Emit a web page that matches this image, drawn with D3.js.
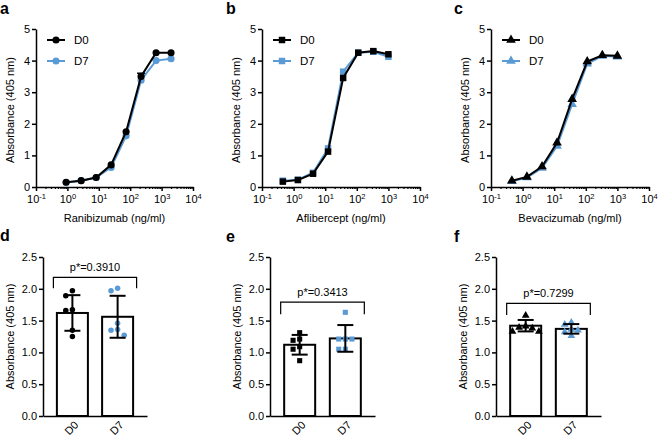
<!DOCTYPE html>
<html>
<head>
<meta charset="utf-8">
<script src="https://cdnjs.cloudflare.com/ajax/libs/d3/7.8.5/d3.min.js"></script>
<style>
body { margin: 0; background: #fff; }
text { font-family: "Liberation Sans", Arial, sans-serif; fill: #000; }
</style>
</head>
<body>
<div id="chart"></div>
<script>
// concentrations (ng/ml), 3-fold dilutions
var concRani = [0.91, 2.74, 8.23, 24.7, 74.1, 222, 667, 2000];
var concAfli = [0.457, 1.37, 4.12, 12.3, 37.0, 111, 333, 1000];
var concBeva = [0.457, 1.37, 4.12, 12.3, 37.0, 111, 333, 1000];

// absorbance curves
var raniD0 = [0.15, 0.2, 0.3, 0.7, 1.75, 3.5, 4.25, 4.25];
var raniD7 = [0.14, 0.2, 0.3, 0.62, 1.62, 3.38, 4.0, 4.06];
var raniD0Err = [0, 0, 0, 0, 0, 0.1, 0, 0];
var afliD0 = [0.17, 0.22, 0.42, 1.12, 3.45, 4.25, 4.3, 4.2];
var afliD7 = [0.2, 0.23, 0.45, 1.22, 3.65, 4.25, 4.28, 4.12];
var bevaD0 = [0.2, 0.32, 0.65, 1.4, 2.78, 3.97, 4.17, 4.15];
var bevaD7 = [0.18, 0.3, 0.6, 1.3, 2.62, 3.9, 4.15, 4.12];

// bar panels
var groups = ["D0", "D7"];
var raniPtsD0 = [1.97, 1.89, 1.66, 1.67, 1.35, 1.25];
var raniPtsD7 = [1.97, 2.01, 1.36, 1.46, 1.35, 1.27];
var raniMean = [1.62, 1.56];
var raniSD = [0.28, 0.33];
var afliPtsD0 = [1.31, 1.21, 1.19, 1.09, 0.87, 1.05];
var afliPtsD7 = [1.63, 1.21, 1.21, 1.21, 1.05, 1.05];
var afliMean = [1.12, 1.22];
var afliSD = [0.155, 0.21];
var bevaPtsD0 = [1.58, 1.38, 1.41, 1.33, 1.33, 1.39];
var bevaPtsD7 = [1.47, 1.44, 1.36, 1.35, 1.32, 1.26];
var bevaMean = [1.42, 1.37];
var bevaSD = [0.09, 0.075];
var pLabels = ["p*=0.3910", "p*=0.3413", "p*=0.7299"];

var black = "#000";
var blue = "#5b9bd5";

var svg = d3.select("#chart")
    .append("svg")
    .attr("width", 658)
    .attr("height", 438);

function panelLabel(txt, x, y) {
    svg.append("text")
        .attr("x", x).attr("y", y)
        .attr("font-size", "16px")
        .attr("font-weight", "bold")
        .text(txt);
}

// top row: dose-response curves
function drawCurve(p) {
    var yBot = 187, yTop = 29;
    var x = d3.scaleLog().domain([0.1, 10000]).range([p.x0, p.x1]);
    var y = d3.scaleLinear().domain([0, 5]).range([yBot, yTop]);

    var minors = [];
    for (var k = -1; k <= 3; k++) {
        for (var m = 2; m <= 9; m++) minors.push(m * Math.pow(10, k));
    }

    svg.append("g")
        .attr("transform", `translate(0, ${yBot})`)
        .call(d3.axisBottom(x).tickValues(minors).tickSize(2).tickSizeOuter(0).tickFormat(""))
        .call(g => g.select(".domain").remove())
        .call(g => g.selectAll("line").attr("stroke-width", 1.2));

    var xAxis = svg.append("g")
        .attr("transform", `translate(0, ${yBot})`)
        .call(d3.axisBottom(x).tickValues([0.1, 1, 10, 100, 1000, 10000]).tickSize(4).tickSizeOuter(0).tickPadding(4));
    xAxis.selectAll(".tick text").each(function(d) {
        var t = d3.select(this).text(null).attr("font-size", "11px");
        t.append("tspan").text("10");
        t.append("tspan").attr("dy", "-0.5em").attr("font-size", "7.5px").text(Math.round(Math.log10(d)));
    });

    var yAxis = svg.append("g")
        .attr("transform", `translate(${p.x0}, 0)`)
        .call(d3.axisLeft(y).tickValues([0, 1, 2, 3, 4, 5]).tickFormat(d3.format("d")).tickSize(4).tickSizeOuter(0).tickPadding(2));
    yAxis.selectAll("text").attr("font-size", "11px");

    [xAxis, yAxis].forEach(function(a) {
        a.select(".domain").attr("stroke-width", 1.5);
        a.selectAll(".tick line").attr("stroke-width", 1.5);
    });

    var line = d3.line().x(d => x(d[0])).y(d => y(d[1]));
    var sym = d3.symbol().type(p.shape).size(p.size);

    [[p.d7, blue], [p.d0, black]].forEach(function(s) {
        var pts = p.conc.map((c, i) => [c, s[0][i]]);
        svg.append("path")
            .attr("d", line(pts))
            .attr("fill", "none")
            .attr("stroke", s[1])
            .attr("stroke-width", 2);
        svg.selectAll(null)
            .data(pts)
            .enter()
            .append("path")
            .attr("transform", d => `translate(${x(d[0])}, ${y(d[1])})`)
            .attr("d", sym)
            .attr("fill", s[1]);
    });

    if (p.err) {
        p.conc.forEach(function(c, i) {
            if (!p.err[i]) return;
            var yy = y(p.d0[i] + p.err[i]);
            svg.append("line").attr("x1", x(c)).attr("x2", x(c))
                .attr("y1", y(p.d0[i])).attr("y2", yy)
                .attr("stroke", black).attr("stroke-width", 1.5);
            svg.append("line").attr("x1", x(c) - 4).attr("x2", x(c) + 4)
                .attr("y1", yy).attr("y2", yy)
                .attr("stroke", black).attr("stroke-width", 1.5);
        });
    }

    // legend
    [["D0", black, 40], ["D7", blue, 61]].forEach(function(l) {
        var lx = p.x0 + 11;
        svg.append("line")
            .attr("x1", lx).attr("x2", lx + 18)
            .attr("y1", l[2]).attr("y2", l[2])
            .attr("stroke", l[1]).attr("stroke-width", 2);
        svg.append("path")
            .attr("transform", `translate(${lx + 9}, ${l[2]})`)
            .attr("d", sym)
            .attr("fill", l[1]);
        svg.append("text")
            .attr("x", p.x0 + 38).attr("y", l[2] + 4)
            .attr("font-size", "11.5px")
            .text(l[0]);
    });

    svg.append("text")
        .attr("transform", `translate(${p.x0 - 22}, ${(yBot + yTop) / 2 + 2}) rotate(-90)`)
        .attr("text-anchor", "middle")
        .attr("font-size", "11px")
        .text("Absorbance (405 nm)");

    svg.append("text")
        .attr("x", (p.x0 + p.x1) / 2).attr("y", 222)
        .attr("text-anchor", "middle")
        .attr("font-size", "11px")
        .text(p.title);
}

// simple beeswarm offsets so dots do not overlap
function swarm(vals, y, r) {
    var order = vals.map((v, i) => i).sort((a, b) => vals[b] - vals[a]);
    var placed = [];
    var out = vals.map(() => 0);
    order.forEach(function(i) {
        var py = y(vals[i]);
        var cands = [0, -1, 1, -2, 2, -3, 3];
        for (var c = 0; c < cands.length; c++) {
            var ox = cands[c] * r * 2.2;
            var ok = placed.every(q => Math.hypot(q[0] - ox, q[1] - py) >= r * 2.1);
            if (ok) { out[i] = ox; placed.push([ox, py]); break; }
        }
    });
    return out;
}

// bottom row: bar + scatter
function drawBars(p) {
    var yBot = 416, yTop = 257;
    var x = d3.scalePoint().domain(groups).range([p.x0, p.x1]).padding(0.65);
    var y = d3.scaleLinear().domain([0, 2.5]).range([yBot, yTop]);
    var bw = 31;

    var xAxis = svg.append("g")
        .attr("transform", `translate(0, ${yBot})`)
        .call(d3.axisBottom(x).tickSize(0).tickSizeOuter(0).tickFormat(""));

    // rotated category labels
    svg.selectAll(null)
        .data(groups)
        .enter()
        .append("text")
        .attr("transform", d => `translate(${x(d) + 4}, ${yBot + 7}) rotate(-45)`)
        .attr("text-anchor", "end")
        .attr("dy", "0.35em")
        .attr("font-size", "11px")
        .text(d => d);

    var yAxis = svg.append("g")
        .attr("transform", `translate(${p.x0}, 0)`)
        .call(d3.axisLeft(y).tickValues([0, 0.5, 1, 1.5, 2, 2.5]).tickFormat(d3.format(".1f")).tickSize(4).tickSizeOuter(0).tickPadding(2));
    yAxis.selectAll("text").attr("font-size", "11px");

    [xAxis, yAxis].forEach(function(a) {
        a.select(".domain").attr("stroke-width", 1.5);
        a.selectAll(".tick line").attr("stroke-width", 1.5);
    });

    svg.selectAll(null)
        .data(groups)
        .enter()
        .append("rect")
        .attr("x", d => x(d) - bw / 2)
        .attr("y", (d, i) => y(p.mean[i]))
        .attr("width", bw)
        .attr("height", (d, i) => yBot - y(p.mean[i]))
        .attr("fill", "#fff")
        .attr("stroke", black)
        .attr("stroke-width", 2);

    var sym = d3.symbol().type(p.shape).size(p.size);
    [p.pts0, p.pts7].forEach(function(vals, gi) {
        var cx = x(groups[gi]);
        var offs = swarm(vals, y, 3);
        svg.selectAll(null)
            .data(vals)
            .enter()
            .append("path")
            .attr("transform", (d, i) => `translate(${cx + offs[i]}, ${y(d)})`)
            .attr("d", sym)
            .attr("fill", gi === 0 ? black : blue);
    });

    // mean +/- SD
    groups.forEach(function(g, i) {
        var cx = x(g);
        var lo = y(p.mean[i] - p.sd[i]), hi = y(p.mean[i] + p.sd[i]);
        svg.append("line").attr("x1", cx).attr("x2", cx).attr("y1", lo).attr("y2", hi)
            .attr("stroke", black).attr("stroke-width", 2);
        [lo, hi].forEach(function(yy) {
            svg.append("line").attr("x1", cx - 8).attr("x2", cx + 8).attr("y1", yy).attr("y2", yy)
                .attr("stroke", black).attr("stroke-width", 2);
        });
    });

    // significance bracket
    var bx0 = x("D0") - 19, bx1 = x("D7") + 19;
    var by = y(p.bracket[0]), bl = y(p.bracket[1]);
    svg.append("path")
        .attr("d", `M${bx0},${bl}V${by}H${bx1}V${bl}`)
        .attr("fill", "none")
        .attr("stroke", black)
        .attr("stroke-width", 1.2);
    svg.append("text")
        .attr("x", (bx0 + bx1) / 2).attr("y", by - 6)
        .attr("text-anchor", "middle")
        .attr("font-size", "11px")
        .text(p.pLabel);

    svg.append("text")
        .attr("transform", `translate(${p.x0 - 29}, ${(yBot + yTop) / 2}) rotate(-90)`)
        .attr("text-anchor", "middle")
        .attr("font-size", "11px")
        .text("Absorbance (405 nm)");
}

drawCurve({x0: 36, x1: 193, conc: concRani, d0: raniD0, d7: raniD7, err: raniD0Err,
    shape: d3.symbolCircle, size: 40, title: "Ranibizumab (ng/ml)"});
drawCurve({x0: 262, x1: 420, conc: concAfli, d0: afliD0, d7: afliD7,
    shape: d3.symbolSquare, size: 42, title: "Aflibercept (ng/ml)"});
drawCurve({x0: 491, x1: 649, conc: concBeva, d0: bevaD0, d7: bevaD7,
    shape: d3.symbolTriangle, size: 40, title: "Bevacizumab (ng/ml)"});

drawBars({x0: 43, x1: 147, pts0: raniPtsD0, pts7: raniPtsD7, mean: raniMean, sd: raniSD,
    shape: d3.symbolCircle, size: 24, bracket: [2.18, 2.01], pLabel: pLabels[0]});
drawBars({x0: 270, x1: 375, pts0: afliPtsD0, pts7: afliPtsD7, mean: afliMean, sd: afliSD,
    shape: d3.symbolSquare, size: 26, bracket: [1.79, 1.60], pLabel: pLabels[1]});
drawBars({x0: 496, x1: 601, pts0: bevaPtsD0, pts7: bevaPtsD7, mean: bevaMean, sd: bevaSD,
    shape: d3.symbolTriangle, size: 26, bracket: [1.77, 1.59], pLabel: pLabels[2]});

panelLabel("a", 0, 14);
panelLabel("b", 226, 14);
panelLabel("c", 454, 14);
panelLabel("d", 0, 241);
panelLabel("e", 226, 242);
panelLabel("f", 454, 242);
</script>
</body>
</html>
